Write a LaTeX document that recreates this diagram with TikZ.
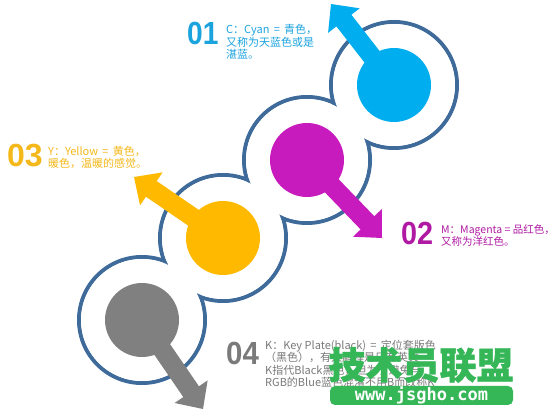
\documentclass[tikz,border=0pt]{standalone}
\usepackage{fontspec}
\setmainfont{Liberation Sans}
\newfontfamily\cjk{Noto Sans CJK SC}
\newfontfamily\numf{Liberation Sans}
\newfontfamily\monof{DejaVu Sans Mono}
\usetikzlibrary{calc}
\definecolor{ringc}{HTML}{3F6B9B}
\definecolor{cyanc}{HTML}{00AEEF}
\definecolor{magc}{HTML}{C71BBE}
\definecolor{yelc}{HTML}{FFBA00}
\definecolor{grayc}{HTML}{808080}
\definecolor{cyant}{HTML}{1BA3DE}
\definecolor{magt}{HTML}{B01AA3}
\definecolor{yelt}{HTML}{F5B81A}
\definecolor{grayt}{HTML}{7A7A7A}
\definecolor{wmgreen}{HTML}{35B657}
\newcommand\pinarrow[3]{%
  \coordinate (#2base) at ($(#3)!21pt!(#2)$);
  \fill[#1] ($(#2)!9.5pt!90:(#3)$) -- ($(#2base)!9.5pt!90:(#3)$) --
    ($(#2base)!20pt!90:(#3)$) -- (#3) -- ($(#2base)!20pt!-90:(#3)$) --
    ($(#2base)!9.5pt!-90:(#3)$) -- ($(#2)!9.5pt!-90:(#3)$) -- cycle;}
\tikzset{
  ringline/.style={draw=ringc, line width=4pt},
  ringfill/.style={fill=white},
  bignum/.style={anchor=base west, inner sep=0pt, font=\numf\bfseries\fontsize{32}{32}\selectfont},
  bodytext/.style={anchor=base west, inner sep=0pt, align=left, font=\cjk\fontsize{11}{12.5}\selectfont},
}
\begin{document}
\begin{tikzpicture}[x=1pt,y=-1pt]
\fill[white] (0,0) rectangle (557,411);
\useasboundingbox (0,0) rectangle (557,411);
\coordinate (c1) at (394,85);
\coordinate (c2) at (307,160);
\coordinate (c3) at (223,238);
\coordinate (c4) at (142,320);
\coordinate (t1) at (331,4);
\coordinate (t2) at (382,238);
\coordinate (t3) at (134,177);
\coordinate (t4) at (203,409);
% rings
\foreach \c in {c1,c2,c3,c4} \draw[ringline] (\c) circle (63pt);
\foreach \c in {c1,c2,c3,c4} \fill[ringfill] (\c) circle (61pt);
% arrows
\pinarrow{cyanc}{c1}{t1}
\pinarrow{magc}{c2}{t2}
\pinarrow{yelc}{c3}{t3}
\pinarrow{grayc}{c4}{t4}
% disks
\fill[cyanc] (c1) circle (37pt);
\fill[magc] (c2) circle (37pt);
\fill[yelc] (c3) circle (37pt);
\fill[grayc] (c4) circle (37pt);
% labels
\node[bignum, text=cyant] (n1) at (187,45) {\scalebox{0.88}[1]{01}};
\node[bodytext, text=cyant] (l1) at (226,59) {C：Cyan \,=\, 青色，\\又称为天蓝色或是\\湛蓝。};
\node[bignum, text=yelt] (n3) at (7,167) {\scalebox{1}[1]{03}};
\node[bodytext, text=yelt] (l3) at (48,168) {Y：Yellow \,=\, 黄色，\\暖色，温暖的感觉。};
\node[bignum, text=magt] (n2) at (401,245) {\scalebox{0.9}[1]{02}};
\node[bodytext, text=magt, font=\cjk\fontsize{10.5}{12}\selectfont] (l2) at (441,246) {M：Magenta = 品红色，\\又称为洋红色。};
\node[bignum, text=grayt] (n4) at (226,365) {\scalebox{0.92}[1]{04}};
\node[bodytext, text=grayt] (l4) at (265,387) {K：Key Plate(black) \,=\, 定位套版色\\（黑色），有人解释是只有英文\\K指代Black黑色，但为了避免与\\RGB的Blue蓝色混淆不用B而改称K};
% watermark
\node[inner sep=0pt, text=wmgreen, font=\cjk\bfseries\fontsize{37}{37}\selectfont] (wm) at (421,365) {\addfontfeature{FakeBold=1.2}技术员联盟};
\node[fill=wmgreen, rounded corners=5pt, minimum width=183pt, minimum height=19pt, inner sep=0pt,
  text=white, font=\monof\bfseries\fontsize{17}{17}\selectfont] (url) at (421.5,395.5) {www.jsgho.com};
\end{tikzpicture}
\end{document}
